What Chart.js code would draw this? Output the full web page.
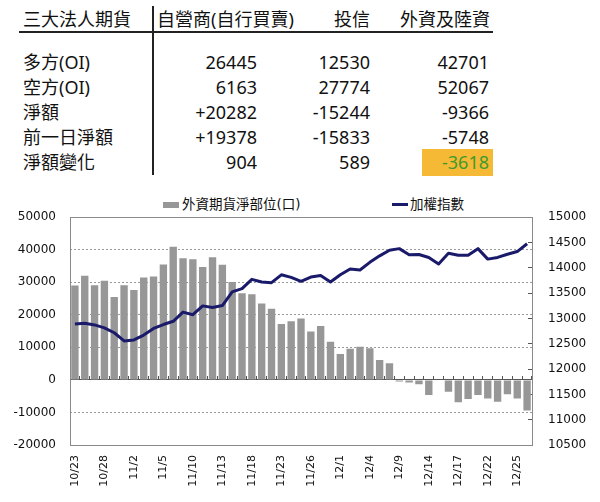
<!DOCTYPE html>
<html>
<head>
<meta charset="utf-8">
<script src="https://cdn.jsdelivr.net/npm/chart.js@4.4.1/dist/chart.umd.min.js"></script>
<style>
  body {
    margin: 0;
    width: 600px;
    height: 502px;
    background: #fff;
    position: relative;
    overflow: hidden;
    font-family: "Noto Sans", "Noto Sans CJK TC", sans-serif;
    color: #111;
  }
  .cell {
    position: absolute;
    font-size: 18px;
    line-height: 26px;
    white-space: nowrap;
  }
  .rule { position: absolute; background: #222; }
  #hilite { position: absolute; left: 422px; top: 149px; width: 71px; height: 27px; background: #f6b936; }
  .leg {
    position: absolute;
    font-family: "DejaVu Sans", "Noto Sans CJK TC", sans-serif;
    font-size: 13.5px;
    line-height: 18px;
    top: 195px;
    white-space: nowrap;
  }
  .leg i { position: absolute; display: block; }
  #wrap { position: absolute; left: 0; top: 190px; width: 600px; height: 312px; }
</style>
</head>
<body>

<div class="rule" style="left:19px; top:31px; width:474px; height:2px;"></div>
<div class="rule" style="left:152px; top:6px; width:2px; height:169px;"></div>
<div id="hilite"></div>

<div class="leg" style="left:182px;"><i style="left:-19px; top:7px; width:16px; height:6px; background:#979797;"></i><span id="leg1"></span></div>
<div class="leg" style="left:410px;"><i style="left:-18px; top:8px; width:16px; height:3px; background:#1a1a6b;"></i><span id="leg2"></span></div>

<div id="wrap"><canvas id="chart"></canvas></div>

<script>
// table
const headers = ["三大法人期貨", "自營商(自行買賣)", "投信", "外資及陸資"];
const rowNames = ["多方(OI)", "空方(OI)", "淨額", "前一日淨額", "淨額變化"];
const dealer = ["26445", "6163", "+20282", "+19378", "904"];
const trust = ["12530", "27774", "-15244", "-15833", "589"];
const foreign = ["42701", "52067", "-9366", "-5748", "-3618"];

// chart
const dates = [
  "10/23", "10/26", "10/27", "10/28", "10/29", "10/30",
  "11/2", "11/3", "11/4", "11/5", "11/6", "11/9", "11/10", "11/11", "11/12", "11/13",
  "11/16", "11/17", "11/18", "11/19", "11/20", "11/23", "11/24", "11/25", "11/26", "11/27", "11/30",
  "12/1", "12/2", "12/3", "12/4", "12/7", "12/8", "12/9", "12/10", "12/11",
  "12/14", "12/15", "12/16", "12/17", "12/18", "12/21", "12/22", "12/23", "12/24", "12/25", "12/28"
];
const netPosition = [
  29000, 32000, 29100, 30500, 25500, 29100, 27600, 31500, 31800, 35500,
  40900, 37400, 37100, 34700, 37700, 35400, 30100, 26600, 26300, 23500,
  21900, 17200, 18000, 18900, 14900, 16600, 11700, 8000, 9600, 10200,
  9700, 6100, 5100, -500, -800, -1300, -4600, -200, -3600, -6900,
  -5900, -4600, -5700, -6700, -4400, -5748, -9366
];
const taiex = [
  12891, 12905, 12872, 12814, 12717, 12556, 12575, 12672, 12802, 12880,
  12944, 13125, 13074, 13248, 13215, 13254, 13526, 13590, 13772, 13720,
  13707, 13862, 13811, 13733, 13817, 13849, 13720, 13862, 13978, 13958,
  14108, 14237, 14347, 14379, 14257, 14263, 14205, 14075, 14288, 14250,
  14250, 14379, 14172, 14205, 14269, 14321, 14476
];
const barLabel = "外資期貨淨部位(口)";
const lineLabel = "加權指數";

function addCell(text, x, top, alignRight, color) {
  const d = document.createElement("div");
  d.className = "cell";
  d.textContent = text;
  d.style.top = top + "px";
  if (alignRight) d.style.right = (600 - x) + "px";
  else d.style.left = x + "px";
  if (color) d.style.color = color;
  document.body.appendChild(d);
}

addCell(headers[0], 23, 6, false);
addCell(headers[1], 157, 6, false);
addCell(headers[2], 370, 6, true);
addCell(headers[3], 490, 6, true);

rowNames.forEach((name, i) => {
  const top = 49 + i * 25;
  addCell(name, 23, top, false);
  addCell(dealer[i], 257, top, true);
  addCell(trust[i], 370, top, true);
  addCell(foreign[i], 489, top, true, i === 4 ? "#3f9b2c" : null);
});

document.getElementById("leg1").textContent = barLabel;
document.getElementById("leg2").textContent = lineLabel;

const tickFont = { family: "DejaVu Sans", size: 12 };
const plain = v => String(v);

const frame = {
  id: "frame",
  beforeDatasetsDraw(chart) {
    const { ctx, chartArea: a } = chart;
    ctx.save();
    ctx.strokeStyle = "#8a8a8a";
    ctx.lineWidth = 1;
    ctx.strokeRect(Math.round(a.left) + 0.5, Math.round(a.top) + 0.5, Math.round(a.width), Math.round(a.height));
    ctx.restore();
  }
};

new Chart(document.getElementById("chart"), {
  type: "bar",
  data: {
    labels: dates,
    datasets: [
      {
        type: "line",
        label: lineLabel,
        data: taiex,
        yAxisID: "y1",
        borderColor: "#1a1a6b",
        borderWidth: 3,
        pointRadius: 0,
        tension: 0,
        borderJoinStyle: "round",
        order: 0
      },
      {
        label: barLabel,
        data: netPosition,
        yAxisID: "y",
        backgroundColor: "#979797",
        barPercentage: 0.75,
        categoryPercentage: 1,
        order: 1
      }
    ]
  },
  options: {
    responsive: true,
    maintainAspectRatio: false,
    animation: false,
    layout: { padding: { top: 25 } },
    plugins: {
      legend: { display: false },
      tooltip: { enabled: false }
    },
    scales: {
      x: {
        type: "category",
        offset: true,
        grid: { display: false, drawTicks: false },
        border: { display: false },
        ticks: {
          autoSkip: false,
          minRotation: 90,
          maxRotation: 90,
          padding: 10,
          color: "#111",
          font: { family: "DejaVu Sans", size: 11 },
          callback(v, i) { return i % 3 === 0 ? this.getLabelForValue(v) : ""; }
        },
        afterFit(s) { s.height = 57; }
      },
      xz: {
        type: "category",
        position: { y: 0 },
        offset: true,
        grid: { offset: true, drawOnChartArea: false, drawTicks: true, tickLength: -4, tickColor: "#555" },
        border: { display: true, color: "#555", width: 1 },
        ticks: { display: false },
        afterFit(s) { s.height = 0; }
      },
      y: {
        position: "left",
        min: -20000,
        max: 50000,
        ticks: { stepSize: 10000, padding: 14, color: "#111", font: tickFont, callback: plain },
        grid: {
          drawTicks: false,
          color: c => [-20000, 0, 50000].includes(c.tick.value) ? "rgba(0,0,0,0)" : "#9a9a9a"
        },
        border: { display: false, dash: [2, 2] },
        afterFit(s) { s.width = 70; }
      },
      y1: {
        position: "right",
        min: 10500,
        max: 15000,
        ticks: { stepSize: 500, padding: 20, color: "#111", font: tickFont, callback: plain },
        grid: { drawOnChartArea: false, drawTicks: true, tickLength: -4, tickColor: "#555" },
        border: { display: false },
        afterFit(s) { s.width = 68; }
      }
    }
  },
  plugins: [frame]
});
</script>
</body>
</html>
